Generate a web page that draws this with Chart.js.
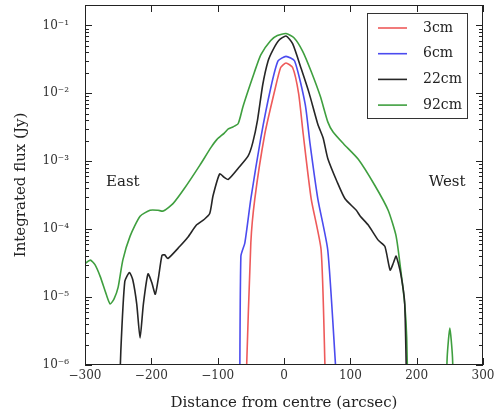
<!DOCTYPE html>
<html>
<head>
<meta charset="utf-8">
<script src="https://cdn.jsdelivr.net/npm/chart.js@4"></script>
<style>
  body { margin: 0; background: #fff; }
</style>
</head>
<body>
<canvas id="flux-chart" width="495" height="419"></canvas>
<script>
// distance from centre (arcsec) and integrated flux (Jy) for each band
var dist3 = [-57, -50, -44, -29, -14, -5, 3, 13, 22, 29, 41, 56, 62];
var flux3 = [6e-7, 6.3e-5, 2.8e-4, 2.5e-3, 1.1e-2, 2.4e-2, 2.8e-2, 2.4e-2, 1.0e-2, 2.5e-3, 2.8e-4, 4.9e-5, 8e-7];

var dist6 = [-67, -65, -59, -50, -35, -20, -9, 3, 16, 32, 39, 51, 66, 78];
var flux6 = [1e-7, 4.0e-5, 6.3e-5, 2.8e-4, 2.2e-3, 1.2e-2, 3.0e-2, 3.5e-2, 3.0e-2, 6.9e-3, 1.9e-3, 2.8e-4, 4.9e-5, 8.9e-7];

var dist22 = [-250, -246, -240, -233, -228, -222, -217, -212, -205, -199, -194, -189, -184, -180, -175,
  -157, -145, -132, -120, -112, -107, -97, -90, -84, -69, -54, -47, -40, -32, -24, -17, -8, 3,
  13, 26, 38, 51, 59, 66, 80, 92, 109, 115, 127, 142, 152, 160, 165, 169, 176, 182, 186];
var flux22 = [1e-7, 1.6e-6, 1.7e-5, 2.3e-5, 1.8e-5, 7.9e-6, 2.5e-6, 7.9e-6, 2.2e-5, 1.6e-5, 1.1e-5, 2.0e-5, 4.1e-5, 4.2e-5, 3.7e-5,
  5.6e-5, 7.6e-5, 1.15e-4, 1.4e-4, 1.7e-4, 3.1e-4, 6.5e-4, 5.8e-4, 5.4e-4, 7.9e-4, 1.2e-3, 1.9e-3, 4.0e-3, 1.35e-2, 3.0e-2, 4.3e-2, 6.0e-2, 7.0e-2,
  5.4e-2, 2.3e-2, 1.0e-2, 3.5e-3, 2.2e-3, 1.1e-3, 5.0e-4, 2.8e-4, 1.9e-4, 1.55e-4, 1.15e-4, 6.9e-5, 5.6e-5, 2.5e-5, 3.2e-5, 4.0e-5, 2.2e-5, 7.9e-6, 1e-7];

var dist92 = [-300, -292, -285, -277, -268, -262, -256, -250, -243, -232, -217, -202, -190, -182, -167,
  -150, -127, -110, -101, -90, -84, -77, -69, -62, -54, -45, -35, -20, -10, 3, 15, 28, 41, 55, 66, 74,
  90, 112, 137, 157, 169, 176, 182, 185, 188, 215, 243, 246, 250, 254, 257];
var flux92 = [3.1e-5, 3.5e-5, 3.0e-5, 2.0e-5, 1.1e-5, 7.9e-6, 9.5e-6, 1.4e-5, 3.5e-5, 7.9e-5, 1.55e-4, 1.9e-4, 1.9e-4, 1.85e-4, 2.4e-4,
  4.0e-4, 8.7e-4, 1.6e-3, 2.1e-3, 2.6e-3, 3.0e-3, 3.2e-3, 3.6e-3, 6.3e-3, 1.1e-2, 2.0e-2, 3.7e-2, 6.0e-2, 7.1e-2, 7.6e-2, 6.6e-2, 4.2e-2, 2.1e-2, 8.9e-3, 3.8e-3, 2.7e-3,
  1.8e-3, 1.07e-3, 4.4e-4, 1.9e-4, 7.9e-5, 2.5e-5, 7.9e-6, 2.5e-6, 1e-7, null, 1e-7, 1.3e-6, 3.5e-6, 1.3e-6, 1e-7];

var bandLabels = ['3cm', '6cm', '22cm', '92cm'];
var bandColors = ['#ee5a5a', '#4b4bef', '#262626', '#3f9f3f'];
var xTicks = [-300, -200, -100, 0, 100, 200, 300];
var yDecades = [-6, -5, -4, -3, -2, -1];

var serif = "'DejaVu Serif', 'Liberation Serif', serif";
var sup = { '-': '\u207B', '0': '\u2070', '1': '\u00B9', '2': '\u00B2', '3': '\u00B3', '4': '\u2074', '5': '\u2075', '6': '\u2076', '7': '\u2077', '8': '\u2078', '9': '\u2079' };

function pairs(xs, ys) {
  return xs.map(function (x, i) { return { x: x, y: ys[i] }; });
}

function expLabel(n) {
  return '10' + String(n).split('').map(function (c) { return sup[c]; }).join('');
}

function noEdgePadding(scale) {
  scale.paddingTop = 0;
  scale.paddingBottom = 0;
  scale.paddingLeft = 0;
  scale.paddingRight = 0;
}

// matplotlib-like frame: inward ticks on all four sides, legend box and side labels
var framePlugin = {
  id: 'frame',
  afterDraw: function (chart) {
    var ctx = chart.ctx;
    var a = chart.chartArea;
    var xs = chart.scales.x, ys = chart.scales.y;
    ctx.save();
    ctx.strokeStyle = '#222';
    ctx.lineWidth = 1;
    ctx.strokeRect(a.left + 0.5, a.top + 0.5, a.right - a.left - 1, a.bottom - a.top - 1);

    ctx.beginPath();
    xTicks.forEach(function (v) {
      var px = Math.round(xs.getPixelForValue(v)) + 0.5;
      ctx.moveTo(px, a.bottom); ctx.lineTo(px, a.bottom - 7);
      ctx.moveTo(px, a.top); ctx.lineTo(px, a.top + 7);
    });
    yDecades.forEach(function (e) {
      for (var m = 1; m <= 9; m++) {
        var v = m * Math.pow(10, e);
        if (v < ys.min || v > ys.max) continue;
        var py = Math.round(ys.getPixelForValue(v)) + 0.5;
        var len = m === 1 ? 7 : 4;
        ctx.moveTo(a.left, py); ctx.lineTo(a.left + len, py);
        ctx.moveTo(a.right, py); ctx.lineTo(a.right - len, py);
      }
    });
    ctx.stroke();

    // legend
    var bx = 367, by = 13, bw = 100, bh = 105;
    ctx.fillStyle = '#fff';
    ctx.fillRect(bx, by, bw, bh);
    ctx.strokeStyle = '#333';
    ctx.strokeRect(bx + 0.5, by + 0.5, bw, bh);
    ctx.font = '14px ' + serif;
    ctx.textBaseline = 'middle';
    ctx.textAlign = 'left';
    chart.data.datasets.forEach(function (ds, i) {
      var ly = by + 15 + i * 25.7;
      ctx.strokeStyle = ds.borderColor;
      ctx.lineWidth = 1.6;
      ctx.beginPath();
      ctx.moveTo(bx + 11, ly); ctx.lineTo(bx + 40, ly);
      ctx.stroke();
      ctx.fillStyle = '#222';
      ctx.fillText(ds.label, bx + 56, ly);
    });

    ctx.font = '15px ' + serif;
    ctx.textAlign = 'center';
    ctx.fillStyle = '#222';
    ctx.fillText('East', xs.getPixelForValue(-243), ys.getPixelForValue(4.9e-4));
    ctx.fillText('West', xs.getPixelForValue(246), ys.getPixelForValue(4.9e-4));
    ctx.restore();
  }
};

var datasets = [[dist3, flux3], [dist6, flux6], [dist22, flux22], [dist92, flux92]].map(function (s, i) {
  return {
    label: bandLabels[i],
    data: pairs(s[0], s[1]),
    borderColor: bandColors[i],
    borderWidth: 1.6,
    pointRadius: 0,
    tension: 0.2,
    spanGaps: false
  };
});

var chart = new Chart(document.getElementById('flux-chart').getContext('2d'), {
  type: 'line',
  data: { datasets: datasets },
  plugins: [framePlugin],
  options: {
    responsive: false,
    animation: false,
    layout: { padding: { top: 5, right: 12 } },
    plugins: { legend: { display: false }, tooltip: { enabled: false } },
    scales: {
      x: {
        type: 'linear',
        min: -300,
        max: 300,
        afterFit: function (scale) { scale.height = 54; noEdgePadding(scale); },
        afterBuildTicks: function (scale) {
          scale.ticks = xTicks.map(function (v) { return { value: v }; });
        },
        grid: { display: false, drawTicks: false },
        border: { display: false },
        ticks: {
          padding: 4,
          color: '#333',
          font: { family: serif, size: 12 },
          maxRotation: 0,
          callback: function (v) { return v < 0 ? '\u2212' + Math.abs(v) : String(v); }
        },
        title: {
          display: true,
          text: 'Distance from centre (arcsec)',
          color: '#222',
          font: { family: serif, size: 15 },
          padding: { top: 0, bottom: 7 }
        }
      },
      y: {
        type: 'logarithmic',
        min: 1e-6,
        max: 0.2,
        afterFit: function (scale) { scale.width = 85; noEdgePadding(scale); },
        afterBuildTicks: function (scale) {
          scale.ticks = yDecades.map(function (e) { return { value: Math.pow(10, e), major: true }; });
        },
        grid: { display: false, drawTicks: false },
        border: { display: false },
        ticks: {
          padding: 16,
          autoSkip: false,
          color: '#333',
          font: { family: serif, size: 12 },
          callback: function (v) { return expLabel(Math.round(Math.log10(v))); }
        },
        title: {
          display: true,
          text: 'Integrated flux (Jy)',
          color: '#222',
          font: { family: serif, size: 15 },
          padding: { top: 12, bottom: 0 }
        }
      }
    }
  }
});
</script>
</body>
</html>
